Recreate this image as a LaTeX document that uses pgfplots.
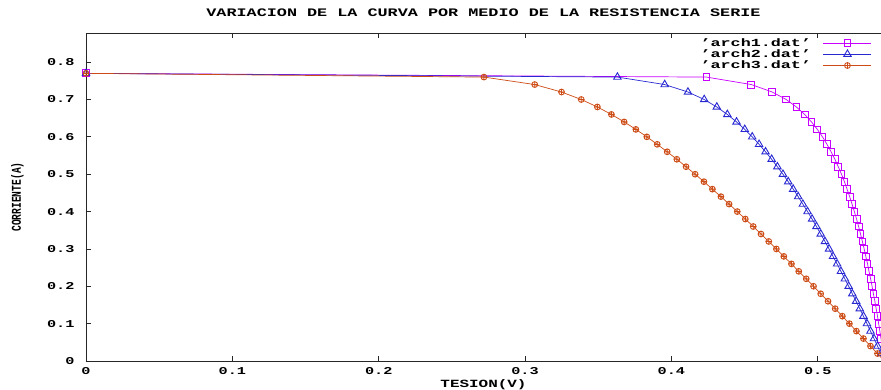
\documentclass[border=0pt]{standalone}
\usepackage{fontspec}
\setmainfont{Liberation Mono}
\usepackage{graphicx}
\usepackage{pgfplots}
\pgfplotsset{compat=1.18}
\definecolor{gpmag}{RGB}{200,0,255}
\definecolor{gpblue}{RGB}{40,40,210}
\definecolor{gporange}{RGB}{205,75,20}
\newcommand{\gp}[1]{\scalebox{1.45}[1]{\bfseries #1}}
\newcommand{\gpl}[1]{\scalebox{1.55}[1]{\bfseries #1}}
\begin{document}
\begin{tikzpicture}
\begin{axis}[
  name=ax,
  scale only axis,
  width=795pt, height=328pt,
  xmin=0, xmax=0.5432, ymin=0, ymax=0.878,
  axis x line=box, axis y line=left,
  axis line style={-, black!85, line width=0.9pt},
  tick align=inside,
  major tick length=5pt,
  tick style={black!85, line width=0.8pt},
  xtick={0,0.1,0.2,0.3,0.4,0.5},
  xticklabels={\gp{0},\gp{0.1},\gp{0.2},\gp{0.3},\gp{0.4},\gp{0.5}},
  ytick={0,0.1,0.2,0.3,0.4,0.5,0.6,0.7,0.8},
  yticklabels={\gp{0},\gp{0.1},\gp{0.2},\gp{0.3},\gp{0.4},\gp{0.5},\gp{0.6},\gp{0.7},\gp{0.8}},
  tick label style={font=\fontsize{10.5}{12}\selectfont},
  yticklabel style={xshift=-8pt},
  xticklabel style={yshift=-3pt},
  title={\scalebox{1.46}[1]{\bfseries VARIACION DE LA CURVA POR MEDIO DE LA RESISTENCIA SERIE}},
  title style={font=\fontsize{11.5}{13}\selectfont, at={(axis description cs:0.5,1.0335)}, anchor=base},
  xlabel={\gp{TESION(V)}},
  xlabel style={font=\fontsize{11}{13}\selectfont, at={(axis description cs:0.5,-0.0815)}, anchor=base},
  ylabel={\scalebox{1}[1.4]{\bfseries CORRIENTE(A)}},
  ylabel style={font=\fontsize{9.6}{11}\selectfont, at={(axis description cs:-0.0862,0.5)}, anchor=center},
  legend plot pos=right,
  legend cell align=right,
  legend style={draw=none, fill=none, at={(rel axis cs:1,1)}, anchor=north east,
    xshift=-9pt, yshift=-4pt, inner sep=0pt, column sep=11pt, row sep=0pt,
    font=\fontsize{10.8}{12}\selectfont, nodes={inner sep=1pt}},
  legend image code/.code={\draw[mark repeat=2,mark phase=2] plot coordinates {(0pt,0pt) (24pt,0pt) (48pt,0pt)};},
]
\addplot[gpmag, line width=0.7pt, mark=square, mark size=3.4pt, mark options={solid, draw=gpmag, line width=0.9pt}] table {
x y
0 0.77
0.4239 0.76
0.4546 0.74
0.4689 0.72
0.4784 0.70
0.4854 0.68
0.4910 0.66
0.4957 0.64
0.4997 0.62
0.5032 0.60
0.5063 0.58
0.5091 0.56
0.5117 0.54
0.5140 0.52
0.5162 0.50
0.5182 0.48
0.5200 0.46
0.5218 0.44
0.5234 0.42
0.5250 0.40
0.5265 0.38
0.5279 0.36
0.5292 0.34
0.5305 0.32
0.5317 0.30
0.5328 0.28
0.5340 0.26
0.5350 0.24
0.5361 0.22
0.5371 0.20
0.5380 0.18
0.5390 0.16
0.5399 0.14
0.5408 0.12
0.5416 0.10
0.5424 0.08
0.5432 0.06
0.5440 0.04
0.5448 0.02
0.5455 0.00
};
\addlegendentry{\gpl{'arch1.dat'}}
\addplot[gpblue, line width=0.7pt, mark=triangle, mark size=4.3pt, mark options={solid, draw=gpblue, line width=0.9pt}] table {
x y
0 0.77
0.3631 0.76
0.3954 0.74
0.4113 0.72
0.4224 0.70
0.4310 0.68
0.4382 0.66
0.4445 0.64
0.4501 0.62
0.4552 0.60
0.4599 0.58
0.4643 0.56
0.4685 0.54
0.4724 0.52
0.4762 0.50
0.4798 0.48
0.4832 0.46
0.4866 0.44
0.4898 0.42
0.4930 0.40
0.4961 0.38
0.4991 0.36
0.5020 0.34
0.5049 0.32
0.5077 0.30
0.5104 0.28
0.5132 0.26
0.5158 0.24
0.5185 0.22
0.5211 0.20
0.5236 0.18
0.5262 0.16
0.5287 0.14
0.5312 0.12
0.5336 0.10
0.5360 0.08
0.5384 0.06
0.5408 0.04
0.5432 0.02
0.5455 0.00
};
\addlegendentry{\gpl{'arch2.dat'}}
\addplot[gporange, line width=0.7pt, mark=oplus, mark size=2.9pt, mark options={solid, draw=gporange, line width=0.9pt}] table {
x y
0 0.77
0.2719 0.76
0.3066 0.74
0.3249 0.72
0.3384 0.70
0.3494 0.68
0.3590 0.66
0.3677 0.64
0.3757 0.62
0.3832 0.60
0.3903 0.58
0.3971 0.56
0.4037 0.54
0.4100 0.52
0.4162 0.50
0.4222 0.48
0.4280 0.46
0.4338 0.44
0.4394 0.42
0.4450 0.40
0.4505 0.38
0.4559 0.36
0.4612 0.34
0.4665 0.32
0.4717 0.30
0.4768 0.28
0.4820 0.26
0.4870 0.24
0.4921 0.22
0.4971 0.20
0.5020 0.18
0.5070 0.16
0.5119 0.14
0.5168 0.12
0.5216 0.10
0.5264 0.08
0.5312 0.06
0.5360 0.04
0.5408 0.02
0.5455 0.00
};
\addlegendentry{\gpl{'arch3.dat'}}
\end{axis}
\pgfresetboundingbox
\path[use as bounding box] ([shift={(-86pt,-28pt)}]ax.south west) rectangle ([shift={(0pt,33pt)}]ax.north east);
\end{tikzpicture}
\end{document}
